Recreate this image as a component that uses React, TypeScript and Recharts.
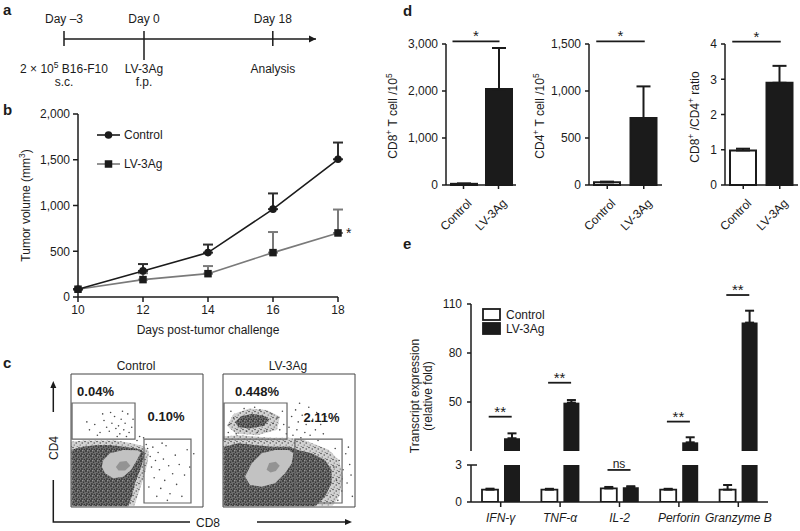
import React from 'react';
import {
  ComposedChart, LineChart, BarChart, ScatterChart, Line, Bar, Scatter, Cell,
  XAxis, YAxis, ErrorBar, Legend, ReferenceLine, ReferenceDot,
} from 'recharts';

const FONT = "'Liberation Sans', Arial, Helvetica, sans-serif";
const INK = '#1b1b1b';
const GREY = '#7a7a7a';

// a: schedule (schematic spacing, not to scale)
const scheduleDays = ['Day –3', 'Day 0', 'Day 18'];
const schedulePos = [0, 1, 2.61];
const scheduleNotes = [['2 × 10^5 B16-F10', 's.c.'], ['LV-3Ag', 'f.p.'], ['Analysis']];
const scheduleEnd = 3.15;

// b: tumour growth
const days = [10, 12, 14, 16, 18];
const controlVolume = [85, 285, 485, 960, 1505];
const controlVolumeErr = [0, 75, 88, 172, 183];
const lvVolume = [85, 190, 255, 485, 700];
const lvVolumeErr = [0, 70, 83, 225, 256];
const volumeTicks = [0, 500, 1000, 1500, 2000];

// c: flow plots (density outlines, sparse events, gates) in 0-100 plot units
const flowTicks = [3, 9, 13, 16, 18, 19.5, 21, 22, 31, 37, 41, 44, 46, 47.5, 49, 50, 59, 65, 69, 72, 74, 75.5, 77, 78, 87, 93, 97];
const ctrlHalo = [[0, 49], [10, 50], [22, 50], [34, 50], [46, 48], [54, 46], [59, 42], [58, 33], [55, 22], [51, 10], [48, 1], [0, 1]];
const ctrlOuter = [[0.5, 43], [9, 45.3], [19.5, 46.6], [29.5, 46.6], [39.6, 45.3], [48.5, 44.1], [53.5, 42.9], [56, 40.4], [54.8, 35.3], [52.3, 27.8], [48.5, 17.8], [46, 7.7], [43.4, 0.5], [0.5, 0.5]];
const ctrlLight = [[23.3, 30.3], [24.5, 35.3], [29.5, 40.4], [39.6, 42.9], [49.8, 42.6], [53, 41.2], [50, 35.3], [45.5, 27.8], [39.6, 22.8], [32, 21.6], [25.8, 25.3]];
const ctrlCore = [[34, 30], [37, 34], [42, 34.5], [45, 31], [41, 27.5], [36, 27.5]];
const ctrlEvents = [
  [14, 58], [18, 62], [22, 56], [25, 65], [27, 60], [29, 57], [31, 63], [33, 68], [34, 59], [36, 61], [37, 55], [38, 66],
  [40, 58], [41, 63], [43, 70], [44, 56], [46, 60], [30, 71], [24, 70], [20, 54], [35, 53], [42, 53], [47, 66], [12, 64], [39, 72],
  [50, 50], [52, 53], [57, 47], [55, 52], [58, 44], [60, 38], [61, 30], [62, 45], [63, 22], [64, 35], [66, 41], [67, 28], [68, 14],
  [70, 36], [71, 20], [72, 46], [74, 31], [75, 10], [77, 25], [79, 39], [80, 17], [82, 32], [84, 8], [86, 24], [88, 43], [65, 8],
  [59, 15], [73, 5], [90, 30], [93, 40], [69, 48],
];
const ctrlGates = [[0.8, 51.1, 48.5, 78.2], [55.3, 3, 90.9, 51.1]];
const ctrlGateText = ['0.04%', '0.10%'];
const ctrlGateTextAt = [[18.6, 87], [72, 68.4]];

const lvHalo = [[0, 53], [12, 54], [24, 53], [37, 52], [50, 52], [60, 51], [70, 47], [80, 43], [88, 35], [91, 22], [88, 8], [83, 1], [0, 1]];
const lvOuter = [[0.5, 45.3], [11.6, 47.9], [24.2, 46.6], [36.9, 45.3], [49.5, 45.3], [57, 42.9], [67.2, 40.4], [77.3, 35.3], [82.3, 27.8], [82.3, 17.8], [77.3, 7.7], [69.7, 0.5], [0.5, 0.5]];
const lvLight = [[16.7, 22.8], [21.7, 32.8], [29.3, 40.4], [39.4, 42.9], [49.5, 42.9], [53.3, 40.4], [52, 32.8], [47, 25.3], [39.4, 17.8], [29.3, 15.3], [20.5, 16.5]];
const lvCore = [[33, 28], [35, 33], [40, 34], [43, 31], [40, 27], [36, 26]];
const lvClusterHalo = [[3, 61], [8, 70], [20, 74], [33, 73], [43, 68], [41, 58], [26, 54], [10, 55]];
const lvCluster = [[9, 64], [14, 68.5], [22, 70], [30, 69], [35, 66], [31, 61], [20, 59], [12, 60]];
const lvEvents = [
  [4, 56], [6, 72], [8, 67], [10, 55], [16, 74], [18, 57], [24, 75], [26, 56], [28, 73], [33, 57], [37, 70], [38, 63], [41, 67],
  [43, 58], [45, 72], [46, 62], [48, 55], [5, 62], [20, 66], [27, 63], [50, 60], [52, 68], [53, 54], [55, 73], [56, 58], [57, 64],
  [59, 52], [60, 69], [62, 56], [63, 62], [65, 75], [66, 54], [68, 66], [70, 58], [71, 71], [72, 50], [74, 62], [76, 55], [78, 68],
  [58, 78], [86, 20], [88, 35], [90, 12], [91, 28], [93, 40], [94, 18], [96, 32], [97, 24], [98, 8], [95, 45], [85, 44], [87, 5], [84, 30],
];
const lvGates = [[0.8, 51.1, 48.5, 78.2], [54.5, 3, 90.2, 51.1]];
const lvGateText = ['0.448%', '2.11%'];
const lvGateTextAt = [[25.8, 87], [74.6, 67]];

// d: T cell counts
const groups = ['Control', 'LV-3Ag'];
const cd8Count = [25, 2040];
const cd8CountErr = [8, 875];
const cd4Count = [28, 713];
const cd4CountErr = [8, 336];
const cdRatio = [0.98, 2.9];
const cdRatioErr = [0.05, 0.48];

// e: transcripts
const genes = ['IFN-γ', 'TNF-α', 'IL-2', 'Perforin', 'Granzyme B'];
const ctrlFold = [1.0, 1.0, 1.1, 1.0, 1.0];
const ctrlFoldErr = [0.08, 0.07, 0.12, 0.07, 0.38];
const lvFold = [27.8, 49.6, 1.2, 25.3, 98.6];
const lvFoldErr = [3.0, 1.6, 0.08, 3.1, 7.3];
const geneSig = ['**', '**', 'ns', '**', '**'];
const geneSigAt = [41, 61.8, 2.6, 38, 115.5];
const foldUpperTicks = [20, 50, 80, 110];
const foldLowerTicks = [0, 3];

// ---------- helpers ----------
const thousands = (v: number) => v.toLocaleString('en-US');
const pts = (arr: number[][]) => arr.map(([x, y]) => ({ x, y }));
const rectPts = ([x1, y1, x2, y2]: number[]) => pts([[x1, y1], [x2, y1], [x2, y2], [x1, y2]]);
const NoMark = () => <g />;

const SupText = ({ s }: { s: string }) => {
  const parts = s.split(/\^(\S)/);
  return (
    <>
      {parts.map((p, i) =>
        i % 2 ? <tspan key={i} dy={-5} fontSize={8.5}>{p}</tspan> : <tspan key={i} dy={i ? 5 : 0}>{p}</tspan>
      )}
    </>
  );
};

const RotText = ({ x, y, s }: { x: number; y: number; s: string }) => (
  <text x={x} y={y} transform={`rotate(-90 ${x} ${y})`} textAnchor="middle" fontSize={12} fill={INK}>
    <SupText s={s} />
  </text>
);

// ---------- a ----------
const scheduleData = scheduleDays.map((d, i) => ({ pos: schedulePos[i], v: 0, day: d, notes: scheduleNotes[i] }));
const scheduleAxis = [{ pos: schedulePos[0], v: 0 }, { pos: scheduleEnd, v: 0 }];

const ScheduleMark = (p: any) => {
  const { cx, cy, payload } = p;
  const injection = payload.day === 'Day 0';
  return (
    <g>
      <line x1={cx} x2={cx} y1={cy - 8} y2={cy + (injection ? 21 : 7)} stroke={INK} strokeWidth={1.5} />
      <text x={cx} y={cy - 16} textAnchor="middle" fontSize={12} fill={INK}>{payload.day}</text>
      {payload.notes.map((n: string, k: number) => (
        <text key={k} x={cx} y={cy + 34 + 13 * k} textAnchor="middle" fontSize={12} fill={INK}>
          <SupText s={n} />
        </text>
      ))}
    </g>
  );
};

const SchedulePanel = () => (
  <div style={{ position: 'absolute', left: 0, top: 0 }}>
    <ComposedChart width={330} height={90} margin={{ top: 0, right: 14, bottom: 12, left: 64 }}>
      <XAxis type="number" dataKey="pos" domain={[0, scheduleEnd]} hide />
      <YAxis type="number" domain={[-1, 1]} hide />
      <Line
        data={scheduleAxis}
        dataKey="v"
        stroke={INK}
        strokeWidth={1.5}
        isAnimationActive={false}
        dot={(p: any) =>
          p.index === 1 ? (
            <path key="tip" d={`M${p.cx},${p.cy} l-7,-3.5 v7 z`} fill={INK} />
          ) : (
            <g key={`n${p.index}`} />
          )
        }
      />
      <Scatter data={scheduleData} dataKey="v" shape={ScheduleMark} isAnimationActive={false} />
    </ComposedChart>
  </div>
);

// ---------- b ----------
const tumorData = days.map((d, i) => ({
  day: d,
  control: controlVolume[i],
  controlErr: [0, controlVolumeErr[i]],
  lv: lvVolume[i],
  lvErr: [0, lvVolumeErr[i]],
}));

const TumorLegend = () => (
  <svg width={110} height={46} style={{ display: 'block', overflow: 'visible' }}>
    <line x1={7} x2={30} y1={9} y2={9} stroke={INK} strokeWidth={1.6} />
    <circle cx={18.5} cy={9} r={3.8} fill={INK} />
    <text x={34} y={9} dy="0.35em" fontSize={12} fill={INK}>Control</text>
    <line x1={7} x2={30} y1={38} y2={38} stroke={GREY} strokeWidth={1.6} />
    <rect x={14.75} y={34.25} width={7.5} height={7.5} fill={INK} />
    <text x={34} y={38} dy="0.35em" fontSize={12} fill={INK}>LV-3Ag</text>
  </svg>
);

const TumorPanel = () => (
  <div style={{ position: 'absolute', left: 0, top: 90 }}>
    <LineChart width={370} height={250} data={tumorData} margin={{ top: 24, right: 32, bottom: 0, left: 0 }}>
      <XAxis
        dataKey="day" type="number" domain={[10, 18]} ticks={days} height={43}
        tickSize={5} tickMargin={3} stroke={INK} strokeWidth={1.5} tick={{ fill: INK, fontSize: 12 }}
      />
      <YAxis
        type="number" domain={[0, 2000]} ticks={volumeTicks} width={78} tickSize={5} tickMargin={3}
        stroke={INK} strokeWidth={1.5} tickFormatter={thousands} tick={{ fill: INK, fontSize: 12 }}
      />
      <Line
        dataKey="lv" name="LV-3Ag" stroke={GREY} strokeWidth={1.6} isAnimationActive={false}
        dot={(p: any) => <rect key={`s${p.index}`} x={p.cx - 3.75} y={p.cy - 3.75} width={7.5} height={7.5} fill={INK} />}
      >
        <ErrorBar dataKey="lvErr" width={5} stroke={GREY} strokeWidth={2} isAnimationActive={false} />
      </Line>
      <Line
        dataKey="control" name="Control" stroke={INK} strokeWidth={1.6} isAnimationActive={false}
        dot={(p: any) => <circle key={`c${p.index}`} cx={p.cx} cy={p.cy} r={3.8} fill={INK} />}
      >
        <ErrorBar dataKey="controlErr" width={5} stroke="#2e2e2e" strokeWidth={2} isAnimationActive={false} />
      </Line>
      <ReferenceDot
        x={days[4]} y={lvVolume[4]} r={0} fill="none" stroke="none"
        label={{ value: '*', position: 'right', offset: 8, fontSize: 14, fill: INK }}
      />
      <Legend
        layout="vertical" align="center" verticalAlign="middle"
        wrapperStyle={{ left: 90, top: 36, width: 110, height: 46, margin: 0 }}
        content={TumorLegend}
      />
    </LineChart>
  </div>
);

// ---------- c ----------
const eventDot = (p: any) => <circle cx={p.cx} cy={p.cy} r={0.8} fill="#4a4a4a" />;
const gateLabel = (p: any) => (
  <text x={p.cx} y={p.cy} dy="0.35em" textAnchor="middle" fontSize={13} fontWeight="bold" fill={INK}>
    {p.payload.text}
  </text>
);

type FlowProps = {
  left: number;
  halo: number[][];
  outer: number[][];
  light: number[][];
  core: number[][];
  clusterHalo?: number[][];
  cluster?: number[][];
  events: number[][];
  gates: number[][];
  gateText: string[];
  gateTextAt: number[][];
};

const FlowPlot = ({ left, halo, outer, light, core, clusterHalo, cluster, events, gates, gateText, gateTextAt }: FlowProps) => {
  const blobs: [number[][], string][] = [[halo, 'url(#speckSparse)'], [outer, 'url(#speckDense)'], [light, '#c2c2c2'], [core, '#939393']];
  if (clusterHalo) blobs.push([clusterHalo, 'url(#speckSparse)']);
  if (cluster) blobs.push([cluster, 'url(#speckDense)']);
  const labels = gateText.map((t, i) => ({ x: gateTextAt[i][0], y: gateTextAt[i][1], text: t }));
  return (
    <div style={{ position: 'absolute', left, top: 350 }}>
      <ScatterChart width={150} height={165} margin={{ top: 24, right: 7, bottom: 8, left: 11 }}>
        <XAxis type="number" dataKey="x" domain={[0, 100]} ticks={flowTicks} height={0} mirror tick={false} axisLine={false} tickSize={3} stroke="#555" />
        <YAxis type="number" dataKey="y" domain={[0, 100]} ticks={flowTicks} width={0} mirror tick={false} axisLine={false} tickSize={3} stroke="#555" />
        {blobs.map(([poly, color], i) => (
          <Scatter
            key={`b${i}`} data={pts(poly)} line={{ fill: color, stroke: 'none' }} lineJointType="linearClosed"
            shape={NoMark} isAnimationActive={false}
          />
        ))}
        <Scatter data={pts(events)} shape={eventDot} isAnimationActive={false} />
        {gates.map((g, i) => (
          <Scatter
            key={`g${i}`} data={rectPts(g)} line={{ fill: 'none', stroke: '#666', strokeWidth: 1.2 }}
            lineJointType="linearClosed" shape={NoMark} isAnimationActive={false}
          />
        ))}
        <Scatter
          data={rectPts([0, 0, 100, 100])} line={{ fill: 'none', stroke: '#444', strokeWidth: 1 }}
          lineJointType="linearClosed" shape={NoMark} isAnimationActive={false}
        />
        <Scatter data={labels} shape={gateLabel} isAnimationActive={false} />
      </ScatterChart>
    </div>
  );
};

// ---------- d ----------
const RotTick = (p: any) => {
  const x = p.x + 9;
  const y = p.y + 13;
  return (
    <text x={x} y={y} transform={`rotate(-45 ${x} ${y})`} textAnchor="end" fontSize={12} fill={INK}>
      {p.payload.value}
    </text>
  );
};

const sigShape = (label: string, size: number, padL: number, padR: number, lift: number) => (p: any) => {
  const xa = p.x1 - padL;
  const xb = p.x2 + padR;
  return (
    <g>
      <line x1={xa} x2={xb} y1={p.y1} y2={p.y1} stroke={INK} strokeWidth={1.8} />
      <text x={(xa + xb) / 2} y={p.y1 - lift} textAnchor="middle" fontSize={size} fill={INK}>{label}</text>
    </g>
  );
};

type CountProps = {
  values: number[];
  errs: number[];
  left: number;
  width: number;
  axisW: number;
  right: number;
  max: number;
  ticks: number[];
  sigAt: number;
};

const CountPanel = ({ values, errs, left, width, axisW, right, max, ticks, sigAt }: CountProps) => {
  const data = groups.map((g, i) => ({ group: g, value: values[i], err: [0, errs[i]] }));
  return (
    <div style={{ position: 'absolute', left, top: 0 }}>
      <BarChart width={width} height={250} data={data} margin={{ top: 44, right, bottom: 0, left: 0 }} barSize={26}>
        <XAxis dataKey="group" height={65} interval={0} tickSize={4} tickMargin={2} stroke={INK} strokeWidth={1.5} tick={RotTick} />
        <YAxis
          type="number" domain={[0, max]} ticks={ticks} width={axisW} tickSize={4} tickMargin={4}
          stroke={INK} strokeWidth={1.5} tickFormatter={thousands} tick={{ fill: INK, fontSize: 12 }}
        />
        <Bar dataKey="value" stroke={INK} strokeWidth={2} isAnimationActive={false}>
          {data.map((_, i) => (
            <Cell key={`cell-${i}`} fill={i === 0 ? '#ffffff' : INK} />
          ))}
          <ErrorBar dataKey="err" width={7} stroke={INK} strokeWidth={2} isAnimationActive={false} />
        </Bar>
        <ReferenceLine
          segment={[{ x: groups[0], y: sigAt }, { x: groups[1], y: sigAt }]}
          ifOverflow="visible"
          shape={sigShape('*', 15, 11, 1, 0)}
        />
      </BarChart>
    </div>
  );
};

// ---------- e ----------
const upperData = genes.map((g, i) => ({
  gene: g,
  ctrl: null,
  lv: lvFold[i] > foldUpperTicks[0] ? lvFold[i] : null,
  lvErr: lvFold[i] > foldUpperTicks[0] ? [0, lvFoldErr[i]] : null,
}));
const lowerData = genes.map((g, i) => ({
  gene: g,
  ctrl: ctrlFold[i],
  ctrlErr: [0, ctrlFoldErr[i]],
  lv: lvFold[i],
  lvErr: lvFold[i] <= foldLowerTicks[1] ? [0, lvFoldErr[i]] : null,
}));

const breakTick = (breakAt: number) => (p: any) => {
  const v = p.payload.value;
  const axisX = p.x + 9;
  return (
    <g>
      <text x={p.x} y={p.y} dy="0.35em" textAnchor="end" fontSize={12} fill={INK}>{v}</text>
      {v === breakAt && <line x1={axisX} x2={axisX + 6} y1={p.y} y2={p.y} stroke={INK} strokeWidth={1.5} />}
    </g>
  );
};

const FoldLegend = () => (
  <svg width={80} height={30} style={{ display: 'block', overflow: 'visible' }}>
    <rect x={1} y={1} width={17} height={11} fill="#fff" stroke={INK} strokeWidth={1.8} />
    <text x={24} y={7} dy="0.35em" fontSize={12} fill={INK}>Control</text>
    <rect x={1} y={15} width={17} height={11} fill={INK} stroke={INK} strokeWidth={1.8} />
    <text x={24} y={21} dy="0.35em" fontSize={12} fill={INK}>LV-3Ag</text>
  </svg>
);

const sigMarks = (inLower: boolean) =>
  genes.map((g, i) => {
    const lower = geneSigAt[i] <= foldLowerTicks[1];
    if (lower !== inLower) return null;
    const ns = geneSig[i] === 'ns';
    return (
      <ReferenceLine
        key={`sig-${i}`}
        segment={[{ x: g, y: geneSigAt[i] }, { x: g, y: geneSigAt[i] }]}
        ifOverflow="visible"
        shape={sigShape(geneSig[i], ns ? 12 : 15, 12, 11, ns ? 2 : 0)}
      />
    );
  });

const FoldPanel = () => (
  <>
    <div style={{ position: 'absolute', left: 380, top: 270 }}>
      <BarChart width={400} height={181} data={upperData} margin={{ top: 34, right: 12, bottom: 0, left: 0 }} barSize={16} barGap={6}>
        <XAxis dataKey="gene" hide />
        <YAxis
          type="number" domain={[foldUpperTicks[0], 110]} ticks={foldUpperTicks} allowDataOverflow width={91}
          tickSize={4} tickMargin={5} stroke={INK} strokeWidth={1.5} tick={breakTick(foldUpperTicks[0])}
        />
        <Bar dataKey="ctrl" name="Control" fill="#fff" stroke={INK} strokeWidth={1.8} isAnimationActive={false} />
        <Bar dataKey="lv" name="LV-3Ag" fill={INK} isAnimationActive={false}>
          <ErrorBar dataKey="lvErr" width={4.5} stroke={INK} strokeWidth={2} isAnimationActive={false} />
        </Bar>
        {sigMarks(false)}
        <Legend
          layout="vertical" align="center" verticalAlign="middle"
          wrapperStyle={{ left: 102, top: 38, width: 80, height: 30, margin: 0 }}
          content={FoldLegend}
        />
      </BarChart>
    </div>
    <div style={{ position: 'absolute', left: 380, top: 445 }}>
      <BarChart width={400} height={86} data={lowerData} margin={{ top: 20, right: 12, bottom: 0, left: 0 }} barSize={16} barGap={6}>
        <XAxis
          dataKey="gene" height={29} interval={0} tickSize={5} tickMargin={6} stroke={INK} strokeWidth={1.5}
          tick={{ fill: INK, fontSize: 12, fontStyle: 'italic' }}
        />
        <YAxis
          type="number" domain={[0, foldLowerTicks[1]]} ticks={foldLowerTicks} allowDataOverflow width={91}
          tickSize={4} tickMargin={5} stroke={INK} strokeWidth={1.5} tick={breakTick(foldLowerTicks[1])}
        />
        <Bar dataKey="ctrl" fill="#fff" stroke={INK} strokeWidth={1.8} isAnimationActive={false}>
          <ErrorBar dataKey="ctrlErr" width={4.5} stroke={INK} strokeWidth={2} isAnimationActive={false} />
        </Bar>
        <Bar dataKey="lv" fill={INK} isAnimationActive={false}>
          <ErrorBar dataKey="lvErr" width={4.5} stroke={INK} strokeWidth={2} isAnimationActive={false} />
        </Bar>
        {sigMarks(true)}
      </BarChart>
    </div>
  </>
);

// ---------- titles, panel letters, flow axis arrows, speckle patterns ----------
const Overlay = () => (
  <svg width={800} height={531} style={{ position: 'absolute', left: 0, top: 0, pointerEvents: 'none' }}>
    <defs>
      <pattern id="speckDense" width={5} height={5} patternUnits="userSpaceOnUse">
        <rect width={5} height={5} fill="#6e6e6e" />
        <circle cx={1} cy={1} r={0.8} fill="#111" />
        <circle cx={3.6} cy={2.1} r={0.7} fill="#1a1a1a" />
        <circle cx={1.9} cy={4} r={0.75} fill="#151515" />
        <circle cx={4.3} cy={4.4} r={0.6} fill="#222" />
        <circle cx={2.6} cy={0.3} r={0.4} fill="#d0d0d0" />
      </pattern>
      <pattern id="speckSparse" width={6} height={6} patternUnits="userSpaceOnUse">
        <rect width={6} height={6} fill="#d2d2d2" />
        <circle cx={1} cy={1.5} r={0.7} fill="#333" />
        <circle cx={4.2} cy={3} r={0.65} fill="#3a3a3a" />
        <circle cx={2.2} cy={5} r={0.6} fill="#444" />
        <circle cx={5.2} cy={0.6} r={0.5} fill="#555" />
      </pattern>
    </defs>
    {[['a', 3, 15], ['b', 3, 115], ['c', 3, 368], ['d', 403, 16], ['e', 403, 249]].map(([t, x, y]) => (
      <text key={t as string} x={x as number} y={y as number} fontSize={15} fontWeight="bold" fill={INK}>{t}</text>
    ))}
    <RotText x={29.6} y={205.5} s="Tumor volume (mm^3)" />
    <text x={208} y={334} textAnchor="middle" fontSize={12} fill={INK}>Days post-tumor challenge</text>

    <text x={136} y={370} textAnchor="middle" fontSize={12} fill={INK}>Control</text>
    <text x={288} y={370} textAnchor="middle" fontSize={12} fill={INK}>LV-3Ag</text>
    <line x1={53.3} x2={53.3} y1={412} y2={387} stroke={INK} strokeWidth={1.5} />
    <path d="M53.3,381 l-3,7 h6 z" fill={INK} />
    <RotText x={57.6} y={448} s="CD4" />
    <path d="M53.3,480 V522 H190" fill="none" stroke={INK} strokeWidth={1.5} />
    <text x={208} y={527} textAnchor="middle" fontSize={12} fill={INK}>CD8</text>
    <line x1={257} x2={346} y1={522} y2={522} stroke={INK} strokeWidth={1.5} />
    <path d="M352,522 l-7,-3 v6 z" fill={INK} />

    <RotText x={397.3} y={116} s="CD8^+ T cell /10^5" />
    <RotText x={544.3} y={116} s="CD4^+ T cell /10^5" />
    <RotText x={699.3} y={117} s="CD8^+ /CD4^+ ratio" />

    <RotText x={419.3} y={396} s="Transcript expression" />
    <RotText x={432} y={396} s="(relative fold)" />
  </svg>
);

export default function App() {
  return (
    <div style={{ position: 'absolute', left: 0, top: 0, width: 800, height: 531, background: '#fff', fontFamily: FONT, overflow: 'hidden' }}>
      <SchedulePanel />
      <TumorPanel />
      <FlowPlot
        left={60} halo={ctrlHalo} outer={ctrlOuter} light={ctrlLight} core={ctrlCore}
        events={ctrlEvents} gates={ctrlGates} gateText={ctrlGateText} gateTextAt={ctrlGateTextAt}
      />
      <FlowPlot
        left={212} halo={lvHalo} outer={lvOuter} light={lvLight} core={lvCore} clusterHalo={lvClusterHalo} cluster={lvCluster}
        events={lvEvents} gates={lvGates} gateText={lvGateText} gateTextAt={lvGateTextAt}
      />
      <CountPanel values={cd8Count} errs={cd8CountErr} left={370} width={150} axisW={76} right={4} max={3000} ticks={[0, 1000, 2000, 3000]} sigAt={3055} />
      <CountPanel values={cd4Count} errs={cd4CountErr} left={520} width={145} axisW={69} right={3} max={1500} ticks={[0, 500, 1000, 1500]} sigAt={1528} />
      <CountPanel values={cdRatio} errs={cdRatioErr} left={670} width={130} axisW={55} right={2} max={4} ticks={[0, 1, 2, 3, 4]} sigAt={4.07} />
      <FoldPanel />
      <Overlay />
    </div>
  );
}
